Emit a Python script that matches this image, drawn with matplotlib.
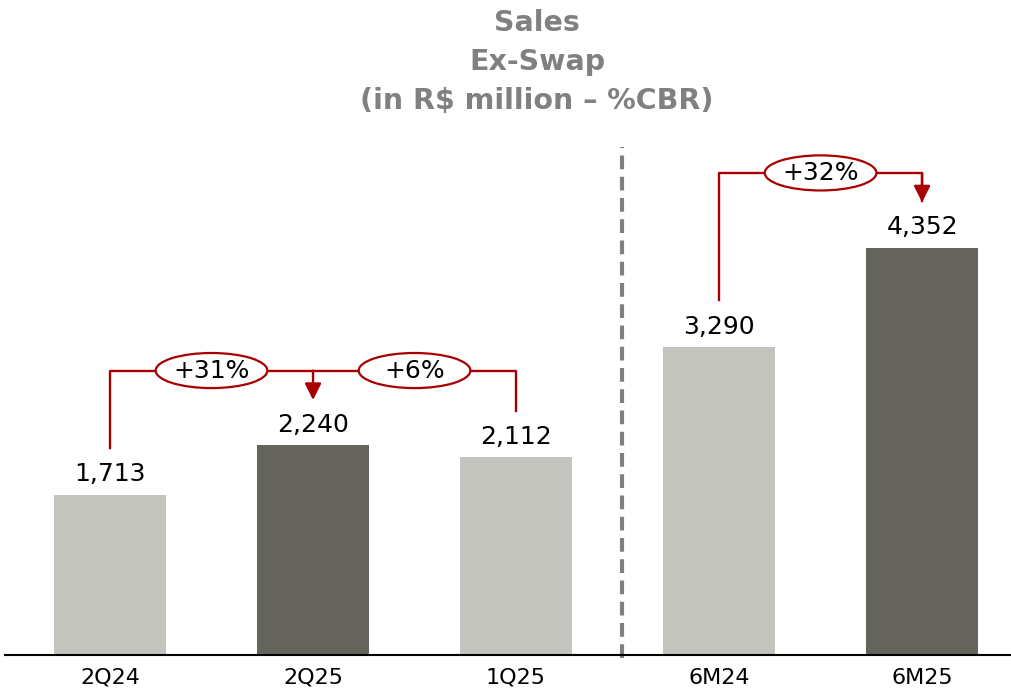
import matplotlib
matplotlib.use("Agg")
import matplotlib.pyplot as plt
from matplotlib.patches import Ellipse

categories = ["2Q24", "2Q25", "1Q25", "6M24", "6M25"]
values = [1713, 2240, 2112, 3290, 4352]
value_labels = ["1,713", "2,240", "2,112", "3,290", "4,352"]
bar_colors = ["#C4C4BE", "#64645C", "#C4C4BE", "#C4C4BE", "#64645C"]
title_lines = ["Sales", "Ex-Swap", "(in R$ million \u2013 %CBR)"]
growth_left = [("+31%", 0.5), ("+6%", 1.5)]
growth_right = [("+32%", 3.5)]

RED = "#A80000"
plt.rcParams['font.family'] = ['DejaVu Sans']

fig = plt.figure(figsize=(10.11, 6.93), dpi=100)
ax = fig.add_axes([0.005, 38/693, 0.995, 1 - 38/693])
x = list(range(len(categories)))
ax.bar(x, values, width=0.55, color=bar_colors, zorder=2)
ax.set_xlim(-0.517, 4.438)
ax.set_ylim(0, 7000)

for xi, v, lab in zip(x, values, value_labels):
    ax.text(xi, v + 90, lab, ha="center", va="bottom", fontsize=18, color="black")

for s in ["top", "right", "left"]:
    ax.spines[s].set_visible(False)
ax.spines["bottom"].set_linewidth(1.5)
ax.set_yticks([])
ax.set_xticks(x)
ax.set_xticklabels(categories, fontsize=16)
ax.tick_params(axis="x", length=0, pad=9)

# dashed separator
ax.plot([2.5223, 2.5223], [-30, 5430], color="#808080", lw=3, ls=(0, (3.3, 1.8)), zorder=1, clip_on=False)

gap = 500
def bracket(i0, i1, iarrow, others):
    top = max(values[i0:i1 + 1]) + 800
    ax.plot([i0, i0, i1, i1], [values[i0] + gap, top, top, values[i1] + gap], color=RED, lw=1.7, zorder=3)
    ax.annotate("", xy=(iarrow, values[iarrow] + gap - 15), xytext=(iarrow, top),
                arrowprops=dict(arrowstyle="-|>,head_length=1.0,head_width=0.5", color=RED, lw=1.7,
                                shrinkA=0, shrinkB=0), zorder=3)
    for lab, xc in others:
        ax.add_patch(Ellipse((xc, top), 0.55, 375, facecolor="white", edgecolor=RED, lw=1.6, zorder=4))
        ax.text(xc, top, lab, ha="center", va="center", fontsize=18, zorder=5)

bracket(0, 2, 1, growth_left)
bracket(3, 4, 4, growth_right)

for k, line in enumerate(title_lines):
    fig.text(537/1011, 1 - (23 + 39 * k) / 693, line, ha="center", va="center",
             fontsize=20.5, fontweight="bold", color="#808080")

fig.savefig("out.png", dpi=100)
